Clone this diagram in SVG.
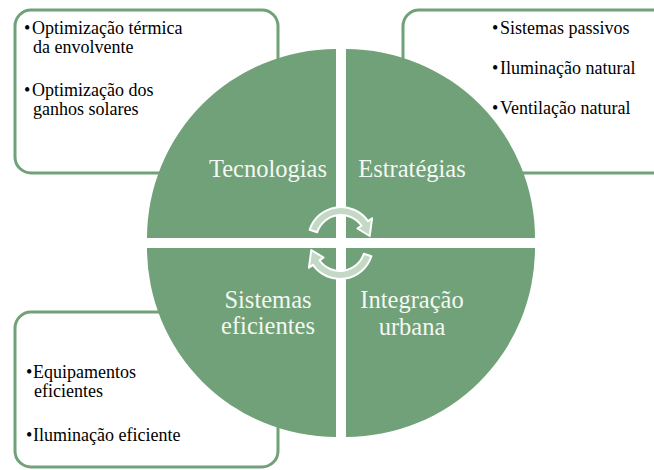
<svg xmlns="http://www.w3.org/2000/svg" width="654" height="470" viewBox="0 0 654 470">
<style>
.box{fill:#fff;stroke:#70a178;stroke-width:3}
.q{fill:#70a178}
.bt{font-family:'Liberation Serif','Times New Roman','DejaVu Serif',serif;font-size:18px;fill:#000}
.lt{font-family:'Liberation Serif','Times New Roman','DejaVu Serif',serif;font-size:24.5px;fill:#f4f8f2;text-anchor:middle}
.arr{fill:#c3d9c5;stroke:#fff;stroke-width:2;stroke-linejoin:round}
</style>
<rect width="654" height="470" fill="#fff"/>
<g id="box-tecnologias">
<rect class="box" x="15" y="10" width="263" height="163" rx="16"/>
<text class="bt"><tspan x="24" y="34">•</tspan><tspan x="32" y="34">Optimização térmica</tspan><tspan x="33" y="53">da envolvente</tspan><tspan x="24" y="96">•</tspan><tspan x="32" y="96">Optimização dos</tspan><tspan x="33" y="115">ganhos solares</tspan></text>
</g>
<g id="box-estrategias">
<rect class="box" x="403" y="10" width="265" height="163" rx="16"/>
<text class="bt"><tspan x="492" y="34">•</tspan><tspan x="500" y="34">Sistemas passivos</tspan><tspan x="492" y="74">•</tspan><tspan x="500" y="74">Iluminação natural</tspan><tspan x="492" y="114">•</tspan><tspan x="500" y="114">Ventilação natural</tspan></text>
</g>
<g id="box-sistemas">
<rect class="box" x="15" y="312" width="263" height="155" rx="16"/>
<text class="bt"><tspan x="26" y="378">•</tspan><tspan x="33" y="378">Equipamentos</tspan><tspan x="34" y="397">eficientes</tspan><tspan x="26" y="441">•</tspan><tspan x="33" y="441">Iluminação eficiente</tspan></text>
</g>
<g id="q-tecnologias">
<path class="q" d="M336,238 L147,238 A189,189 0 0 1 336,49 Z"/>
<text class="lt" x="268" y="177">Tecnologias</text>
</g>
<g id="q-estrategias">
<path class="q" d="M346,238 L346,49 A189,189 0 0 1 535,238 Z"/>
<text class="lt" x="412" y="177">Estratégias</text>
</g>
<g id="q-sistemas">
<path class="q" d="M336,248 L336,437 A189,189 0 0 1 147,248 Z"/>
<text class="lt" x="268" y="308">Sistemas</text>
<text class="lt" x="268" y="334">eficientes</text>
</g>
<g id="q-integracao">
<path class="q" d="M346,248 L535,248 A189,189 0 0 1 346,437 Z"/>
<text class="lt" x="412" y="308">Integração</text>
<text class="lt" x="412" y="335">urbana</text>
</g>
<g id="connectors">
<path class="arr" d="M309.6,229.8 A33,33 0 0 1 368.0,221.1 L372.1,218.2 L369.7,236.0 L357.4,228.5 L361.5,225.7 A25,25 0 0 0 317.2,232.3 Z"/>
<path class="arr" d="M371.4,256.2 A33,33 0 0 1 313.0,264.9 L308.9,267.8 L311.3,250.0 L323.6,257.5 L319.5,260.3 A25,25 0 0 0 363.8,253.7 Z"/>
</g>
</svg>
